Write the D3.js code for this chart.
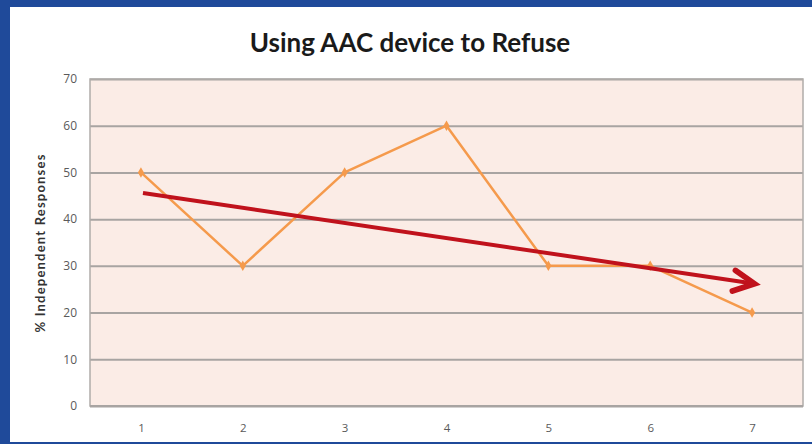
<!DOCTYPE html>
<html>
<head>
<meta charset="utf-8">
<script src="https://cdn.jsdelivr.net/npm/d3@7/dist/d3.min.js"></script>
<style>
  html, body { margin: 0; padding: 0; background: #1f4a9a; }
  svg { display: block; }
</style>
</head>
<body>
<svg id="chart" width="812" height="444"></svg>
<script>
// Sessions and % of independent refusals
const sessions = [1, 2, 3, 4, 5, 6, 7];
const responses = [50, 30, 50, 60, 30, 30, 20];
const yTicks = [0, 10, 20, 30, 40, 50, 60, 70];
// Hand-drawn trend arrow, start and end in data units
const trendX = [1.02, 7.07];
const trendY = [45.6, 26.1];

const title = "Using AAC device to Refuse";
const yLabel = "% Independent Responses";

const svg = d3.select("#chart");
const W = 812, H = 444;

// Slide frame: blue border with white panel
svg.append("rect").attr("x", 0).attr("y", 0).attr("width", W).attr("height", H).attr("fill", "#1f4a9a");
svg.append("rect").attr("x", 10).attr("y", 7).attr("width", W - 10).attr("height", H - 9).attr("fill", "#ffffff");

const plot = { left: 90, right: 803, top: 79, bottom: 406 };

const x = d3.scalePoint().domain(sessions).range([plot.left, plot.right]).padding(0.5);
const xLin = d3.scaleLinear()
  .domain([sessions[0], sessions[sessions.length - 1]])
  .range([x(sessions[0]), x(sessions[sessions.length - 1])]);
const y = d3.scaleLinear().domain([0, 70]).range([plot.bottom, plot.top]);

// Plot area background
svg.append("rect")
  .attr("x", plot.left).attr("y", plot.top)
  .attr("width", plot.right - plot.left).attr("height", plot.bottom - plot.top)
  .attr("fill", "#fbece6");

// Gridlines
const yAxis = d3.axisLeft(y).tickValues(yTicks).tickSize(-(plot.right - plot.left)).tickPadding(13);
const gy = svg.append("g").attr("transform", `translate(${plot.left},0)`).call(yAxis);
gy.select(".domain").remove();
gy.selectAll(".tick line").attr("stroke", "#a8a4a2").attr("stroke-width", 2);
gy.selectAll(".tick text")
  .attr("fill", "#5a5a5a").attr("font-family", "'Open Sans', sans-serif").attr("font-size", 12);

// Plot area frame
svg.append("rect")
  .attr("x", plot.left).attr("y", plot.top)
  .attr("width", plot.right - plot.left).attr("height", plot.bottom - plot.top)
  .attr("fill", "none").attr("stroke", "#b0aca9").attr("stroke-width", 1.5);
svg.append("line")
  .attr("x1", plot.left).attr("x2", plot.right)
  .attr("y1", plot.bottom).attr("y2", plot.bottom)
  .attr("stroke", "#a8a4a2").attr("stroke-width", 2);

// X axis labels
const xAxis = d3.axisBottom(x).tickSize(0).tickPadding(18);
const gx = svg.append("g").attr("transform", `translate(0,${plot.bottom})`).call(xAxis);
gx.select(".domain").remove();
gx.selectAll(".tick text")
  .attr("fill", "#5a5a5a").attr("font-family", "'Open Sans', sans-serif").attr("font-size", 11.5);

// Series line
const line = d3.line().x((d, i) => x(sessions[i])).y(d => y(d));
svg.append("path")
  .datum(responses)
  .attr("d", line)
  .attr("fill", "none")
  .attr("stroke", "#f59a4c")
  .attr("stroke-width", 2.5)
  .attr("stroke-linejoin", "round");

// Diamond markers
svg.selectAll(".marker")
  .data(responses)
  .join("path")
  .attr("class", "marker")
  .attr("d", d3.symbol().type(d3.symbolDiamond).size(32))
  .attr("transform", (d, i) => `translate(${x(sessions[i])},${y(d)})`)
  .attr("fill", "#f59a4c");

// Trend arrow
const defs = svg.append("defs");
defs.append("marker")
  .attr("id", "arrowhead")
  .attr("viewBox", "0 0 10 10")
  .attr("refX", 8.5).attr("refY", 5)
  .attr("markerWidth", 6.5).attr("markerHeight", 6.5)
  .attr("markerUnits", "strokeWidth")
  .attr("orient", "auto")
  .style("overflow", "visible")
  .append("path")
  .attr("d", "M1,1 L9,5 L1,9")
  .attr("fill", "none")
  .attr("stroke", "#c0121c")
  .attr("stroke-width", 2.2)
  .attr("stroke-linecap", "round")
  .attr("stroke-linejoin", "miter");

svg.append("line")
  .attr("x1", xLin(trendX[0])).attr("y1", y(trendY[0]))
  .attr("x2", xLin(trendX[1]) - 6).attr("y2", y(trendY[1]) - 0.5)
  .attr("stroke", "#c0121c")
  .attr("stroke-width", 4)
  .attr("marker-end", "url(#arrowhead)");

// Title
svg.append("text")
  .attr("x", 410).attr("y", 52)
  .attr("text-anchor", "middle")
  .attr("font-family", "Lato, sans-serif")
  .attr("font-weight", 700)
  .attr("font-size", 26)
  .attr("fill", "#1a1a1a")
  .text(title);

// Y axis title
svg.append("text")
  .attr("transform", `translate(45,243) rotate(-90)`)
  .attr("text-anchor", "middle")
  .attr("font-family", "Lato, sans-serif")
  .attr("font-weight", 700)
  .attr("font-size", 13)
  .attr("letter-spacing", 1.2)
  .attr("fill", "#333")
  .text(yLabel);
</script>
</body>
</html>
